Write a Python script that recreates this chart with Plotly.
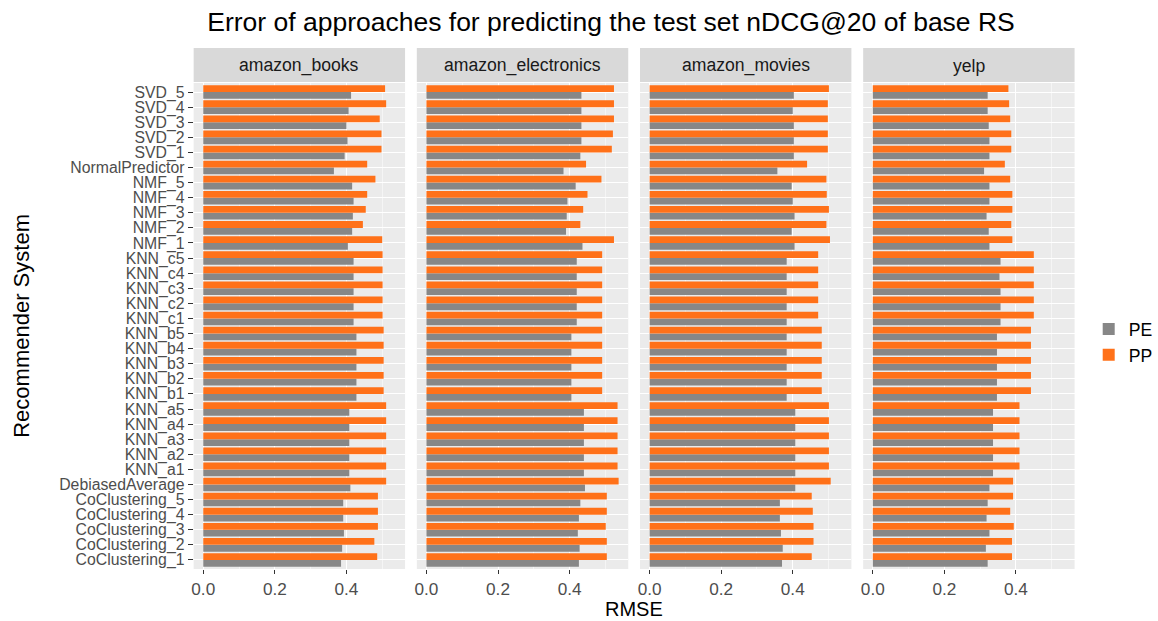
import plotly.graph_objects as go

W, H = 1158, 621

categories = ["SVD_5", "SVD_4", "SVD_3", "SVD_2", "SVD_1", "NormalPredictor",
              "NMF_5", "NMF_4", "NMF_3", "NMF_2", "NMF_1",
              "KNN_c5", "KNN_c4", "KNN_c3", "KNN_c2", "KNN_c1",
              "KNN_b5", "KNN_b4", "KNN_b3", "KNN_b2", "KNN_b1",
              "KNN_a5", "KNN_a4", "KNN_a3", "KNN_a2", "KNN_a1",
              "DebiasedAverage",
              "CoClustering_5", "CoClustering_4", "CoClustering_3", "CoClustering_2", "CoClustering_1"]

datasets = ["amazon_books", "amazon_electronics", "amazon_movies", "yelp"]

books_pe = [0.413, 0.406, 0.400, 0.403, 0.395, 0.365,
            0.416, 0.420, 0.418, 0.416, 0.404,
            0.420, 0.420, 0.420, 0.420, 0.420,
            0.428, 0.428, 0.428, 0.428, 0.428,
            0.408, 0.408, 0.408, 0.408, 0.408,
            0.411,
            0.391, 0.391, 0.393, 0.388, 0.385]
books_pp = [0.508, 0.511, 0.493, 0.498, 0.498, 0.458,
            0.481, 0.458, 0.454, 0.446, 0.500,
            0.501, 0.501, 0.501, 0.501, 0.501,
            0.504, 0.504, 0.504, 0.504, 0.504,
            0.511, 0.511, 0.511, 0.511, 0.511,
            0.511,
            0.488, 0.488, 0.488, 0.478, 0.486]

electronics_pe = [0.433, 0.433, 0.433, 0.433, 0.430, 0.383,
                  0.417, 0.394, 0.392, 0.390, 0.436,
                  0.420, 0.420, 0.420, 0.420, 0.420,
                  0.405, 0.405, 0.405, 0.405, 0.405,
                  0.440, 0.440, 0.440, 0.440, 0.440,
                  0.443,
                  0.430, 0.426, 0.423, 0.428, 0.426]
electronics_pp = [0.524, 0.524, 0.524, 0.521, 0.518, 0.446,
                  0.489, 0.450, 0.438, 0.430, 0.524,
                  0.491, 0.491, 0.491, 0.491, 0.491,
                  0.491, 0.491, 0.491, 0.491, 0.491,
                  0.534, 0.534, 0.534, 0.534, 0.534,
                  0.537,
                  0.504, 0.504, 0.501, 0.504, 0.504]

movies_pe = [0.403, 0.400, 0.403, 0.403, 0.403, 0.357,
             0.397, 0.400, 0.405, 0.397, 0.405,
             0.383, 0.383, 0.383, 0.383, 0.383,
             0.383, 0.383, 0.383, 0.383, 0.383,
             0.407, 0.407, 0.407, 0.407, 0.407,
             0.407,
             0.364, 0.364, 0.367, 0.372, 0.370]
movies_pp = [0.501, 0.498, 0.498, 0.498, 0.498, 0.440,
             0.494, 0.495, 0.501, 0.494, 0.504,
             0.471, 0.471, 0.471, 0.471, 0.471,
             0.481, 0.481, 0.481, 0.481, 0.481,
             0.501, 0.501, 0.501, 0.501, 0.501,
             0.506,
             0.453, 0.456, 0.458, 0.458, 0.453]

yelp_pe = [0.321, 0.321, 0.324, 0.326, 0.326, 0.311,
           0.326, 0.326, 0.318, 0.324, 0.326,
           0.357, 0.354, 0.357, 0.357, 0.357,
           0.347, 0.347, 0.347, 0.347, 0.347,
           0.336, 0.336, 0.336, 0.336, 0.336,
           0.326,
           0.321, 0.318, 0.326, 0.316, 0.321]
yelp_pp = [0.379, 0.381, 0.384, 0.387, 0.387, 0.369,
           0.384, 0.390, 0.390, 0.387, 0.390,
           0.450, 0.450, 0.450, 0.450, 0.450,
           0.442, 0.442, 0.442, 0.442, 0.442,
           0.410, 0.410, 0.410, 0.410, 0.410,
           0.392,
           0.392, 0.384, 0.394, 0.389, 0.389]

series_names = ["PE", "PP"]
x_ticks = [0.0, 0.2, 0.4]
x_ticktext = ["0.0", "0.2", "0.4"]

pe_values = [books_pe, electronics_pe, movies_pe, yelp_pe]
pp_values = [books_pp, electronics_pp, movies_pp, yelp_pp]

COL_PE = "#878787"
COL_PP = "#ff7119"
FONT = "Liberation Sans"
SMALL = 17.6
YLAB = 15.8

bottom_to_top = categories[::-1]
vmax = max(max(v) for v in pe_values + pp_values)
xrange = [-0.05 * vmax, 1.05 * vmax]

fig = go.Figure()

# panel geometry in pixels
panel_left = [194.0, 419.9, 645.8, 871.7]
panel_w = 214.0
panel_top, panel_bot = 83.0, 569.0
strip_top = 48.0

for i, name in enumerate(datasets):
    xa = "x" if i == 0 else f"x{i+1}"
    ya = "y" if i == 0 else f"y{i+1}"
    fig.add_trace(go.Bar(
        orientation="h", x=pe_values[i][::-1], y=bottom_to_top,
        name=series_names[0], marker=dict(color=COL_PE, line=dict(width=0)),
        xaxis=xa, yaxis=ya, legendgroup="PE", showlegend=(i == 0)))
    fig.add_trace(go.Bar(
        orientation="h", x=pp_values[i][::-1], y=bottom_to_top,
        name=series_names[1], marker=dict(color=COL_PP, line=dict(width=0)),
        xaxis=xa, yaxis=ya, legendgroup="PP", showlegend=(i == 0)))

layout = dict(
    width=W, height=H,
    margin=dict(l=0, r=0, t=0, b=0),
    paper_bgcolor="white", plot_bgcolor="#ebebeb",
    barmode="group", bargap=0.1, bargroupgap=0.0,
    font=dict(family=FONT, size=SMALL, color="#4d4d4d"),
    title=dict(text="Error of approaches for predicting the test set nDCG@20 of base RS",
               x=611 / W, xanchor="center", y=1 - 22 / H, yanchor="middle",
               font=dict(family=FONT, size=26.5, color="black")),
    legend=dict(x=1100 / W, y=1 - 311 / H, xanchor="left", yanchor="top",
                traceorder="normal", font=dict(family=FONT, size=SMALL, color="black"),
                bgcolor="rgba(0,0,0,0)", itemwidth=30, tracegroupgap=0),
    showlegend=True,
)

ydom = [1 - panel_bot / H, 1 - panel_top / H]
shapes = []
annotations = []
for i, name in enumerate(datasets):
    xkey = "xaxis" if i == 0 else f"xaxis{i+1}"
    ykey = "yaxis" if i == 0 else f"yaxis{i+1}"
    yanchor_name = "y" if i == 0 else f"y{i+1}"
    xanchor_name = "x" if i == 0 else f"x{i+1}"
    x0 = panel_left[i] / W
    x1 = (panel_left[i] + panel_w) / W
    layout[xkey] = dict(
        domain=[x0, x1], anchor=yanchor_name, range=xrange,
        tickmode="array", tickvals=x_ticks, ticktext=x_ticktext,
        ticks="outside", ticklen=4, tickwidth=1, tickcolor="#333333",
        tickfont=dict(family=FONT, size=17.2, color="#4d4d4d"),
        showgrid=True, gridcolor="white", gridwidth=1.3,
        minor=dict(showgrid=True, gridcolor="#f5f5f5", gridwidth=0.6,
                   tickmode="array", tickvals=[0.1, 0.3, 0.5]),
        zeroline=False, showline=False, fixedrange=True,
    )
    layout[ykey] = dict(
        domain=ydom, anchor=xanchor_name, type="category",
        categoryorder="array", categoryarray=bottom_to_top,
        tickmode="array", tickvals=bottom_to_top, ticktext=bottom_to_top,
        range=[-0.6, len(categories) - 0.4],
        showticklabels=(i == 0),
        ticks="outside" if i == 0 else "", ticklen=5, tickwidth=1, tickcolor="#333333",
        tickfont=dict(family=FONT, size=YLAB, color="#4d4d4d"),
        showgrid=True, gridcolor="white", gridwidth=1.3,
        zeroline=False, showline=False, fixedrange=True,
    )
    # facet strip
    shapes.append(dict(type="rect", xref="paper", yref="paper",
                       x0=x0, x1=x1, y0=1 - (panel_top - 1) / H, y1=1 - strip_top / H,
                       fillcolor="#d9d9d9", line=dict(width=0), layer="below"))
    annotations.append(dict(text=name, xref="paper", yref="paper",
                            x=(x0 + x1) / 2, y=1 - 65.5 / H, xanchor="center", yanchor="middle",
                            showarrow=False, font=dict(family=FONT, size=SMALL, color="#1a1a1a")))

annotations.append(dict(text="RMSE", xref="paper", yref="paper",
                        x=(panel_left[0] + panel_left[3] + panel_w) / 2 / W, y=1 - 608.5 / H,
                        xanchor="center", yanchor="middle", showarrow=False,
                        font=dict(family=FONT, size=20, color="black")))
annotations.append(dict(text="Recommender System", xref="paper", yref="paper",
                        x=19 / W, y=1 - (panel_top + panel_bot) / 2 / H, textangle=-90,
                        xanchor="center", yanchor="middle", showarrow=False,
                        font=dict(family=FONT, size=22, color="black")))

layout["shapes"] = shapes
layout["annotations"] = annotations
fig.update_layout(**layout)

fig.write_html("out.html")
